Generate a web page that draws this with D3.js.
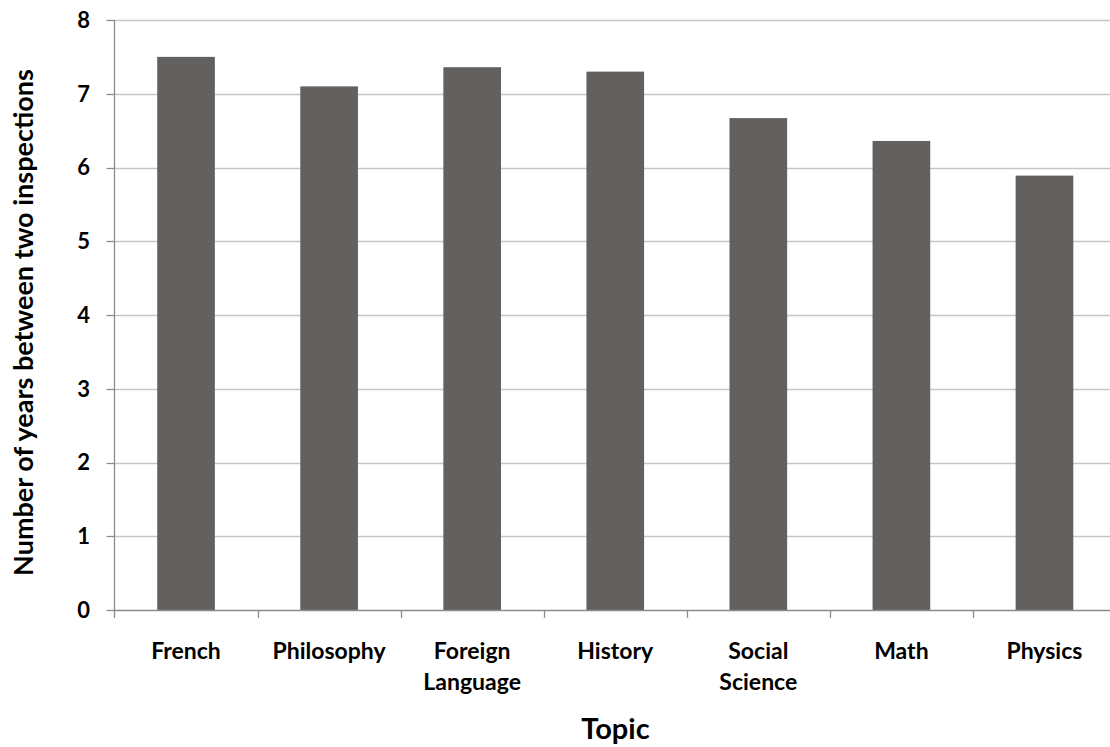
<!DOCTYPE html>
<html>
<head>
<meta charset="utf-8">
<script src="https://cdn.jsdelivr.net/npm/d3@7"></script>
<style>
html,body{margin:0;padding:0;background:#fff;}
svg{display:block;}
text{font-family:Lato,"Open Sans",sans-serif;font-weight:bold;fill:#000;}
</style>
</head>
<body>
<svg id="chart" width="1110" height="747"></svg>
<script>
const categories = ["French", "Philosophy", "Foreign Language", "History", "Social Science", "Math", "Physics"];
const categoryLines = [["French"], ["Philosophy"], ["Foreign", "Language"], ["History"], ["Social", "Science"], ["Math"], ["Physics"]];
const values = [7.50, 7.10, 7.36, 7.30, 6.67, 6.36, 5.89];
const yTicks = [0, 1, 2, 3, 4, 5, 6, 7, 8];
const xTitle = "Topic";
const yTitle = "Number of years between two inspections";

(function () {
const svg = d3.select("#chart");
const pLeft = 114.5, pRight = 1116, pTop = 20, pBottom = 610;

const x = d3.scaleBand().domain(categories).range([pLeft, pRight]).padding(0);
const y = d3.scaleLinear().domain([0, 8]).range([pBottom, pTop]);
const barW = x.bandwidth() * 0.403;

// gridlines
svg.append("g").selectAll("line").data(yTicks.filter(d => d > 0)).join("line")
  .attr("x1", pLeft).attr("x2", pRight)
  .attr("y1", d => Math.round(y(d)) + 0.5).attr("y2", d => Math.round(y(d)) + 0.5)
  .attr("stroke", "#c6c6c6").attr("stroke-width", 1.3);

// bars
svg.append("g").selectAll("rect").data(values).join("rect")
  .attr("x", (d, i) => x(categories[i]) + (x.bandwidth() - barW) / 2)
  .attr("width", barW)
  .attr("y", d => y(d))
  .attr("height", d => y(0) - y(d))
  .attr("fill", "#62615f");

// y axis
const yAxis = svg.append("g");
yAxis.append("line").attr("x1", pLeft).attr("x2", pLeft).attr("y1", pTop).attr("y2", pBottom)
  .attr("stroke", "#8c8c8c").attr("stroke-width", 1.3);
yAxis.selectAll("line.tick").data(yTicks).join("line").attr("class", "tick")
  .attr("x1", pLeft - 8).attr("x2", pLeft)
  .attr("y1", d => Math.round(y(d)) + 0.5).attr("y2", d => Math.round(y(d)) + 0.5)
  .attr("stroke", "#8c8c8c").attr("stroke-width", 1.3);
yAxis.selectAll("text").data(yTicks).join("text")
  .attr("x", 90).attr("y", d => y(d)).attr("dy", "0.36em")
  .attr("text-anchor", "end").style("font-size", "22px")
  .text(d => d);

// x axis
const xAxis = svg.append("g");
xAxis.append("line").attr("x1", pLeft).attr("x2", pRight).attr("y1", pBottom + 0.5).attr("y2", pBottom + 0.5)
  .attr("stroke", "#8c8c8c").attr("stroke-width", 1.3);
const bounds = categories.map(c => x(c)).concat([pRight]);
xAxis.selectAll("line.tick").data(bounds).join("line").attr("class", "tick")
  .attr("x1", d => Math.round(d) + 0.5).attr("x2", d => Math.round(d) + 0.5)
  .attr("y1", pBottom).attr("y2", pBottom + 8)
  .attr("stroke", "#8c8c8c").attr("stroke-width", 1.3);
const labels = xAxis.selectAll("text").data(categories).join("text")
  .attr("x", d => x(d) + x.bandwidth() / 2).attr("y", 658.5)
  .attr("text-anchor", "middle").style("font-size", "23px");
labels.each(function(d, i) {
  const t = d3.select(this);
  categoryLines[i].forEach((ln, j) => {
    t.append("tspan").attr("x", x(d) + x.bandwidth() / 2).attr("dy", j === 0 ? 0 : 31).text(ln);
  });
});

// titles
svg.append("text").attr("x", 615.5).attr("y", 739).attr("text-anchor", "middle")
  .style("font-size", "29px").text(xTitle);
svg.append("text").attr("transform", "translate(33,322.5) rotate(-90)").attr("text-anchor", "middle")
  .style("font-size", "27px").text(yTitle);
})();
</script>
</body>
</html>
